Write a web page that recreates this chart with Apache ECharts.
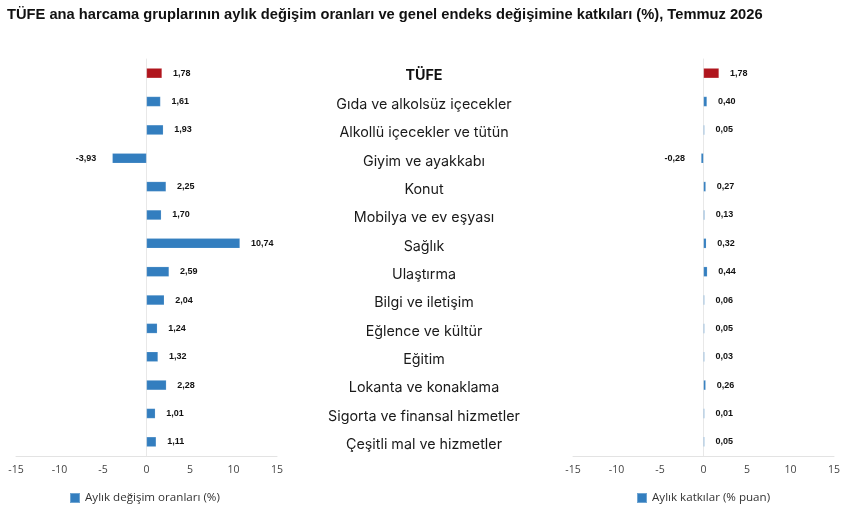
<!DOCTYPE html>
<html>
<head>
<meta charset="UTF-8"/>
<title>TÜFE aylık değişim</title>
<script src="https://cdn.jsdelivr.net/npm/echarts@6/dist/echarts.min.js"></script>
<style>
html,body{margin:0;padding:0;background:#fff;}
#chart{width:847px;height:506px;}
</style>
</head>
<body>
<div id="chart"></div>
<script>
// kategoriler (yukaridan asagiya)
var categories = [
  'TÜFE',
  'Gıda ve alkolsüz içecekler',
  'Alkollü içecekler ve tütün',
  'Giyim ve ayakkabı',
  'Konut',
  'Mobilya ve ev eşyası',
  'Sağlık',
  'Ulaştırma',
  'Bilgi ve iletişim',
  'Eğlence ve kültür',
  'Eğitim',
  'Lokanta ve konaklama',
  'Sigorta ve finansal hizmetler',
  'Çeşitli mal ve hizmetler'
];
// aylik degisim oranlari (%)
var monthlyChange = [1.78, 1.61, 1.93, -3.93, 2.25, 1.70, 10.74, 2.59, 2.04, 1.24, 1.32, 2.28, 1.01, 1.11];
// aylik katkilar (% puan)
var contribution = [1.78, 0.40, 0.05, -0.28, 0.27, 0.13, 0.32, 0.44, 0.06, 0.05, 0.03, 0.26, 0.01, 0.05];
// x ekseni
var xMin = -15, xMax = 15, xStep = 5;

var seriesNames = ['Aylık değişim oranları (%)', 'Aylık katkılar (% puan)'];
var blue = '#337ebf', red = '#b0151d';

function toItems(values) {
  return values.map(function (v, i) {
    var it = { value: v, label: { position: v < 0 ? 'left' : 'right', distance: v < 0 ? 16 : 11 } };
    if (i === 0) it.itemStyle = { color: red };
    return it;
  });
}

function valueAxis(idx) {
  return {
    gridIndex: idx, type: 'value', min: xMin, max: xMax, interval: xStep,
    axisLine: { show: true, onZero: false, lineStyle: { color: '#e3e3e3' } },
    axisTick: { show: false },
    splitLine: { show: false },
    axisLabel: { color: '#444', fontSize: 10.5, fontFamily: 'Open Sans', margin: 9 }
  };
}

function catAxis(idx) {
  return {
    gridIndex: idx, type: 'category', data: categories, inverse: true,
    axisLine: { show: true, lineStyle: { color: '#e8e8e8' } },
    axisTick: { show: false },
    axisLabel: { show: false }
  };
}

function barSeries(idx, name, values) {
  return {
    name: name, type: 'bar', xAxisIndex: idx, yAxisIndex: idx,
    barWidth: 10, barMinHeight: 1,
    itemStyle: { color: blue, borderColor: 'rgba(255,255,255,0.3)', borderWidth: 0.5 },
    label: {
      show: true, color: '#111', fontSize: 9, fontWeight: 'bold', fontFamily: 'Liberation Sans',
      formatter: function (p) { return p.value.toFixed(2).replace('.', ','); }
    },
    data: toItems(values)
  };
}

var chart = echarts.init(document.getElementById('chart'));
chart.setOption({
  animation: false,
  title: {
    text: 'TÜFE ana harcama gruplarının aylık değişim oranları ve genel endeks değişimine katkıları (%), Temmuz 2026',
    left: 2, top: 2,
    textStyle: { fontSize: 14.7, fontWeight: 'bold', color: '#111', fontFamily: 'Liberation Sans' }
  },
  legend: [
    { data: [seriesNames[0]], left: 64, top: 487, icon: 'rect', itemWidth: 10, itemHeight: 10, itemGap: 6,
      textStyle: { fontSize: 11.6, color: '#333', fontFamily: 'Open Sans' } },
    { data: [seriesNames[1]], left: 631, top: 487, icon: 'rect', itemWidth: 10, itemHeight: 10, itemGap: 6,
      textStyle: { fontSize: 11.6, color: '#333', fontFamily: 'Open Sans' } }
  ],
  grid: [
    { left: 16, width: 261, top: 59, height: 397 },
    { left: 573, width: 261, top: 59, height: 397 },
    { left: 298, width: 252, top: 62, height: 397 }
  ],
  xAxis: [
    valueAxis(0),
    valueAxis(1),
    { gridIndex: 2, type: 'value', min: 0, max: 1, show: false }
  ],
  yAxis: [
    catAxis(0),
    catAxis(1),
    {
      gridIndex: 2, type: 'category', data: categories, inverse: true,
      axisLine: { show: false }, axisTick: { show: false },
      axisLabel: {
        margin: -126, align: 'center', color: '#1a1a1a', fontSize: 14.3, fontFamily: 'Inter',
        formatter: function (v, i) { return i === 0 ? '{b|' + v + '}' : v; },
        rich: { b: { fontWeight: 'bold', fontSize: 14.3, fontFamily: 'Inter', color: '#111' } }
      }
    }
  ],
  series: [
    barSeries(0, seriesNames[0], monthlyChange),
    barSeries(1, seriesNames[1], contribution)
  ]
});
</script>
</body>
</html>
